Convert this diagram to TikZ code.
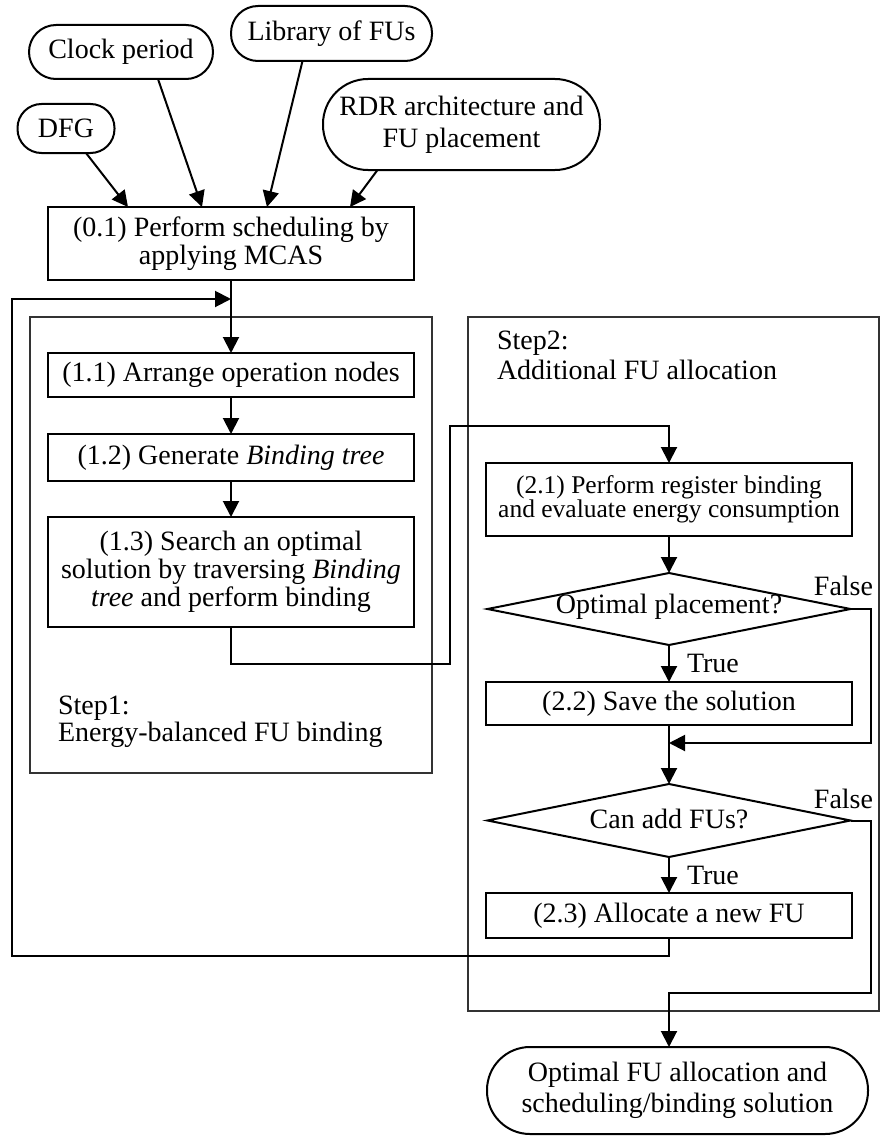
\documentclass[tikz,border=0pt]{standalone}
\usepackage{fontspec}
\setmainfont{Liberation Serif}
\usetikzlibrary{arrows.meta,shapes.geometric,calc}

\begin{document}
\begin{tikzpicture}[x=1pt,y=-1pt,
  font=\fontsize{28}{28}\selectfont,
  every node/.style={inner sep=0pt, outer sep=0pt},
  proc/.style={draw, line width=2pt, minimum width=366pt, align=center},
  term/.style={draw, line width=2pt, align=center},
  decision/.style={draw, diamond, line width=2pt, minimum width=363pt, minimum height=72pt},
  flow/.style={line width=2pt, -{Triangle[length=16pt,width=16pt]}},
  group/.style={draw=black!80, line width=1.2pt},
  steplabel/.style={anchor=north west, align=left},
]
\useasboundingbox (0,0) rectangle (880,1137);

% step frames
\draw[group] (30,317) rectangle (432,773);
\draw[group] (468,317) rectangle (879,1011);
\node[steplabel, font=\fontsize{28}{27}\selectfont] (lab1) at (58,696) {Step1:\\Energy-balanced FU binding};
\node[steplabel, font=\fontsize{28}{30}\selectfont] (lab2) at (497,331) {Step2:\\Additional FU allocation};

% inputs
\node[term, minimum width=97pt, minimum height=49pt, rounded corners=24pt] (dfg) at (66,128.5) {DFG};
\node[term, minimum width=184pt, minimum height=54pt, rounded corners=27pt] (clock) at (121,52) {Clock period};
\node[term, minimum width=201pt, minimum height=55pt, rounded corners=27pt] (lib) at (331.5,33.5) {Library of FUs};
\node[term, minimum width=277pt, minimum height=91pt, rounded corners=45pt, font=\fontsize{28}{32}\selectfont] (rdr) at (461.5,124.5) {RDR architecture and\\FU placement};

% scheduling
\node[proc, minimum height=73pt] (op01) at (231,243.5) {(0.1) Perform scheduling by\\applying MCAS};

\draw[flow] ($(dfg.south)+(20,0)$) -- ($(op01.north west)+(80,0)$);
\draw[flow] ($(clock.south)+(37,0)$) -- ($(op01.north west)+(154,0)$);
\draw[flow] ($(lib.south)+(-29,0)$) -- ($(op01.north west)+(219,0)$);
\draw[flow] ($(rdr.south)+(-84,0)$) -- ($(op01.north west)+(302,0)$);

% step 1
\node[proc, minimum height=44pt] (s11) at (231,375) {(1.1) Arrange operation nodes};
\node[proc, minimum height=47pt] (s12) at (231,457.5) {(1.2) Generate \textit{Binding tree}};
\node[proc, minimum height=110pt] (s13) at (231,572) {(1.3) Search an optimal\\solution by traversing \textit{Binding}\\\textit{tree} and perform binding};

\coordinate (loopin) at (231,299);
\draw[flow] (op01.south) -- (s11.north);
\draw[flow] (s11.south) -- (s12.north);
\draw[flow] (s12.south) -- (s13.north);

% step 2
\node[proc, minimum height=73pt, font=\fontsize{25.5}{24.5}\selectfont] (s21) at (669,499.5) {(2.1) Perform register binding\\and evaluate energy consumption};
\node[decision] (d1) at (669,609) {};
\node (d1text) at (669,607) {Optimal placement?};
\node[proc, minimum height=43pt] (s22) at (669,703.5) {(2.2) Save the solution};
\node[decision, minimum height=73pt] (d2) at (669,820.5) {};
\node (d2text) at (669,819) {Can add FUs?};
\node[proc, minimum height=45pt] (s23) at (669,915.5) {(2.3) Allocate a new FU};

\node[term, minimum width=381pt, minimum height=87pt, rounded corners=43pt, font=\fontsize{28}{31}\selectfont] (done) at (677.5,1090.5) {Optimal FU allocation and\\scheduling/binding solution};

\coordinate (jog1) at (450,664);
\coordinate (jog2) at (669,426);
\coordinate (j2) at (669,743);
\coordinate (j3) at (669,993);
\coordinate (loopL) at (12,956);

\draw[flow] (s13.south) |- (jog1) |- (jog2) -- (s21.north);
\draw[flow] (s21.south) -- (d1.north);
\draw[flow] (d1.south) -- (s22.north) node[midway, anchor=west, xshift=18pt] (t1) {True};
\draw[flow] (d1.east) -- ++(20,0) |- (j2);
\node (f1) at ($(d1.east)+(-7,-23)$) {False};
\draw[flow] (s22.south) -- (d2.north);
\draw[flow] (d2.south) -- (s23.north) node[midway, anchor=west, xshift=18pt] (t2) {True};
\draw[flow] (d2.east) -- ++(20,0) |- (j3) -- (j3 |- done.north);
\node (f2) at ($(d2.east)+(-7,-22)$) {False};

% loop back to step 1
\draw[flow] (s23.south) |- (loopL) |- (loopin);
\end{tikzpicture}
\end{document}
